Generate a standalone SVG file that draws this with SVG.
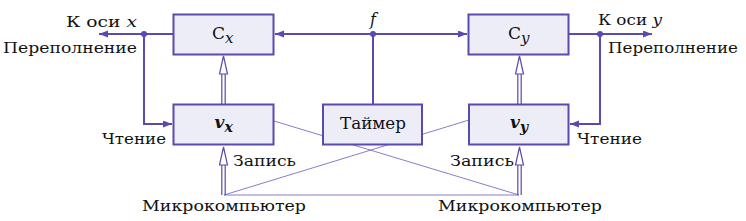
<svg xmlns="http://www.w3.org/2000/svg" width="746" height="221" viewBox="0 0 746 221">
<style>
.box{fill:#ededf8;stroke:#5a4aae;stroke-width:2}
.ln{fill:none;stroke:#5a4aae;stroke-width:2}
.thin{fill:none;stroke:#6a5cba;stroke-width:0.8}
.dbl{fill:none;stroke:#5a4aae;stroke-width:1.2}
.head{fill:#ffffff;stroke:#5a4aae;stroke-width:1.2}
.dot{fill:#5a4aae}
text{font-family:"DejaVu Serif","Liberation Serif",serif;font-size:15.5px;fill:#111111}
.lbl{font-size:16px}
.it{font-style:italic}
</style>
<defs>
<marker id="ah" markerUnits="userSpaceOnUse" markerWidth="10" markerHeight="8" refX="9" refY="3.5" orient="auto">
<path d="M0,0 L9,3.5 L0,7 z" fill="#5a4aae"/>
</marker>
</defs>
<g id="connectors">
<line class="thin" x1="274" y1="121" x2="519" y2="195"/>
<line class="thin" x1="469" y1="120" x2="224" y2="195"/>
<line class="thin" x1="224" y1="195" x2="519" y2="195"/>
<line class="ln" x1="173" y1="34" x2="99" y2="34" marker-end="url(#ah)"/>
<path class="ln" d="M144,34 V124 H172" marker-end="url(#ah)"/>
<line class="ln" x1="373" y1="34" x2="275" y2="34" marker-end="url(#ah)"/>
<line class="ln" x1="373" y1="34" x2="467" y2="34" marker-end="url(#ah)"/>
<line class="ln" x1="373" y1="34" x2="373" y2="104"/>
<line class="ln" x1="569" y1="34" x2="652" y2="34" marker-end="url(#ah)"/>
<path class="ln" d="M600,34 V124 H570" marker-end="url(#ah)"/>
<circle class="dot" cx="144" cy="34" r="3"/>
<circle class="dot" cx="373" cy="34" r="3"/>
<circle class="dot" cx="600" cy="34" r="3"/>
<path class="dbl" d="M221.8,104 V72 M225.2,104 V72"/>
<polygon class="head" points="223.5,56 219.5,74 227.5,74"/>
<path class="dbl" d="M517.8,104 V72 M521.2,104 V72"/>
<polygon class="head" points="519.5,56 515.5,74 523.5,74"/>
<path class="dbl" d="M221.8,195 V164 M225.2,195 V164"/>
<polygon class="head" points="223.5,147 219.5,165 227.5,165"/>
<path class="dbl" d="M517.8,195 V164 M521.2,195 V164"/>
<polygon class="head" points="519.5,147 515.5,165 523.5,165"/>
</g>
<g id="Cx">
<rect class="box" x="173.5" y="14.5" width="100" height="40"/>
<text x="212" y="38.5" style="font-size:17px">C<tspan class="it" dy="4" style="font-size:15px">x</tspan></text>
</g>
<g id="Cy">
<rect class="box" x="468.5" y="14.5" width="100" height="40"/>
<text x="508" y="38.5" style="font-size:17px">C<tspan class="it" dy="4" style="font-size:15px">y</tspan></text>
</g>
<g id="vx">
<rect class="box" x="173.5" y="104.5" width="100" height="40"/>
<text x="214.5" y="127.5" style="font-size:17px;font-weight:bold;font-style:italic">v<tspan dy="4" style="font-size:14px">x</tspan></text>
</g>
<g id="Timer">
<rect class="box" x="323" y="104.5" width="99" height="40"/>
<text x="373" y="129" text-anchor="middle" class="lbl" textLength="66" lengthAdjust="spacingAndGlyphs">Таймер</text>
</g>
<g id="vy">
<rect class="box" x="469" y="104.5" width="99.5" height="40"/>
<text x="510" y="127.5" style="font-size:17px;font-weight:bold;font-style:italic">v<tspan dy="4" style="font-size:14px">y</tspan></text>
</g>
<g id="labels">
<text x="137" y="27" text-anchor="end" textLength="71" lengthAdjust="spacingAndGlyphs">К оси <tspan class="it">x</tspan></text>
<text x="137" y="53" text-anchor="end" textLength="134" lengthAdjust="spacingAndGlyphs">Переполнение</text>
<text x="598" y="25" textLength="64" lengthAdjust="spacingAndGlyphs">К оси <tspan class="it">y</tspan></text>
<text x="608" y="53" textLength="130" lengthAdjust="spacingAndGlyphs">Переполнение</text>
<text x="373" y="25" text-anchor="middle" class="it" style="font-size:16px">f</text>
<text x="102" y="144" textLength="64" lengthAdjust="spacingAndGlyphs">Чтение</text>
<text x="577" y="144" textLength="65" lengthAdjust="spacingAndGlyphs">Чтение</text>
<text x="233" y="166" textLength="63" lengthAdjust="spacingAndGlyphs">Запись</text>
<text x="450" y="166" textLength="64" lengthAdjust="spacingAndGlyphs">Запись</text>
<text x="142" y="211" textLength="164" lengthAdjust="spacingAndGlyphs">Микрокомпьютер</text>
<text x="438" y="211" textLength="164" lengthAdjust="spacingAndGlyphs">Микрокомпьютер</text>
</g>
</svg>
